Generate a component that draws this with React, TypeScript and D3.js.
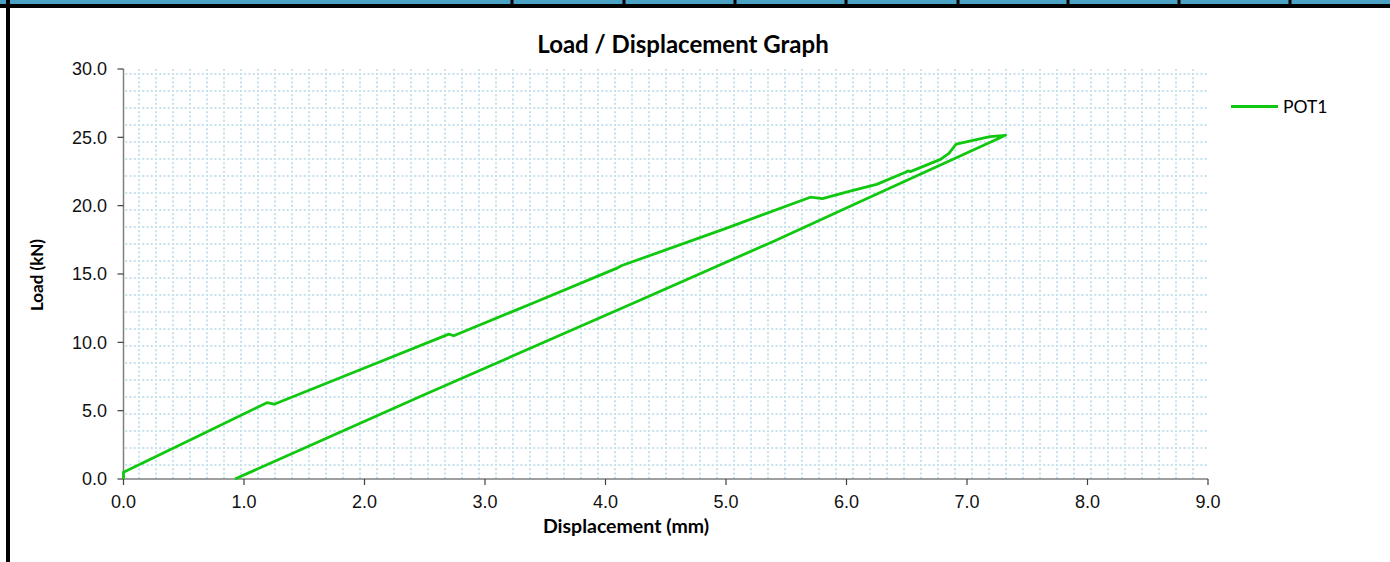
import * as d3 from 'd3';

// load / displacement readings (one loop: loading then unloading)
const displacement = [
  0, 0, 0.6, 1.19, 1.25, 2.0, 2.7, 2.74, 3.4, 4.1, 4.13, 5.0, 5.7, 5.8, 6.03,
  6.25, 6.49, 6.51, 6.53, 6.78, 6.85, 6.91, 7.19, 7.32, 6.03, 5.42, 4.29, 2.5, 0.925,
];
const load = [
  0, 0.5, 3.06, 5.58, 5.47, 8.12, 10.6, 10.48, 12.88, 15.45, 15.6, 18.34, 20.62, 20.52, 21.07,
  21.56, 22.44, 22.54, 22.49, 23.39, 23.83, 24.51, 25.05, 25.15, 19.95, 17.49, 13.1, 6.18, 0,
];

const xTickValues = [0, 1, 2, 3, 4, 5, 6, 7, 8, 9];
const yTickValues = [0, 5, 10, 15, 20, 25, 30];
const seriesName = 'POT1';
const headerSeparators = [512, 624, 735, 846, 958, 1068, 1179, 1290];

const W = 1390;
const H = 562;
const plot = { left: 123.5, right: 1208, top: 69, bottom: 479 };

const tickFont = "'Liberation Sans', Arial, sans-serif";
const labelFont = "Lato, 'Open Sans', sans-serif";
const green = '#10c810';

export default function App() {
  const x = d3.scaleLinear().domain([0, 9]).range([plot.left, plot.right]);
  const y = d3.scaleLinear().domain([0, 30]).range([plot.bottom, plot.top]);

  const points: [number, number][] = displacement.map((d, i) => [d, load[i]]);
  const line = d3
    .line<[number, number]>()
    .x((d) => x(d[0]))
    .y((d) => y(d[1]));

  return (
    <div style={{ position: 'absolute', left: 0, top: 0 }}>
      <svg width={W} height={H} style={{ display: 'block', background: '#fff' }}>
        <defs>
          <pattern id="dotgrid" patternUnits="userSpaceOnUse" x={138} y={73} width={17} height={17}>
            <line x1={0} y1={1} x2={17} y2={1} stroke="#c3e2ee" strokeWidth={2} strokeDasharray="2 2.25" />
            <line x1={1} y1={0} x2={1} y2={17} stroke="#c3e2ee" strokeWidth={2} strokeDasharray="2 2.25" />
          </pattern>
        </defs>

        {/* window frame bits */}
        <rect x={0} y={0} width={W} height={4} fill="#4ba2c4" />
        {headerSeparators.map((sx) => (
          <rect key={sx} x={sx - 1.5} y={0} width={3} height={4} fill="#000" />
        ))}
        <rect x={0} y={4} width={W} height={4} fill="#000" />
        <rect x={6} y={0} width={4} height={H} fill="#000" />

        {/* plot area */}
        <rect
          x={plot.left}
          y={plot.top}
          width={plot.right - plot.left}
          height={plot.bottom - plot.top}
          fill="url(#dotgrid)"
        />

        <text
          x={683}
          y={53}
          textAnchor="middle"
          fontFamily={labelFont}
          fontWeight="bold"
          fontSize={24}
          fill="#000"
        >
          Load / Displacement Graph
        </text>

        {/* y axis */}
        <line x1={plot.left} y1={plot.top} x2={plot.left} y2={plot.bottom} stroke="#7f7f7f" strokeWidth={1.5} />
        {yTickValues.map((v) => (
          <g key={v}>
            <line x1={plot.left - 6} x2={plot.left} y1={y(v)} y2={y(v)} stroke="#404040" strokeWidth={1.2} />
            <text
              x={107}
              y={y(v)}
              dy="0.36em"
              textAnchor="end"
              fontFamily={tickFont}
              fontSize={18}
              fill="#111"
            >
              {v.toFixed(1)}
            </text>
          </g>
        ))}

        {/* x axis */}
        <line x1={plot.left} y1={plot.bottom} x2={plot.right} y2={plot.bottom} stroke="#7f7f7f" strokeWidth={1.5} />
        {xTickValues.map((v) => (
          <g key={v}>
            <line x1={x(v)} x2={x(v)} y1={plot.bottom} y2={plot.bottom + 6} stroke="#404040" strokeWidth={1.2} />
            <text x={x(v)} y={508} textAnchor="middle" fontFamily={tickFont} fontSize={18} fill="#111">
              {v.toFixed(1)}
            </text>
          </g>
        ))}

        <text
          x={626}
          y={533}
          textAnchor="middle"
          fontFamily={labelFont}
          fontWeight="bold"
          fontSize={19.5}
          fill="#000"
        >
          Displacement (mm)
        </text>
        <text
          transform="translate(43,275) rotate(-90)"
          textAnchor="middle"
          fontFamily={labelFont}
          fontWeight="bold"
          fontSize={17}
          fill="#000"
        >
          Load (kN)
        </text>

        {/* series */}
        <path d={line(points) ?? ''} fill="none" stroke={green} strokeWidth={2.8} strokeLinejoin="round" />

        {/* legend */}
        <line x1={1231} x2={1278} y1={106.5} y2={106.5} stroke={green} strokeWidth={2.8} />
        <text x={1283} y={112.5} fontFamily={labelFont} fontSize={17.5} fill="#000">
          {seriesName}
        </text>
      </svg>
    </div>
  );
}
